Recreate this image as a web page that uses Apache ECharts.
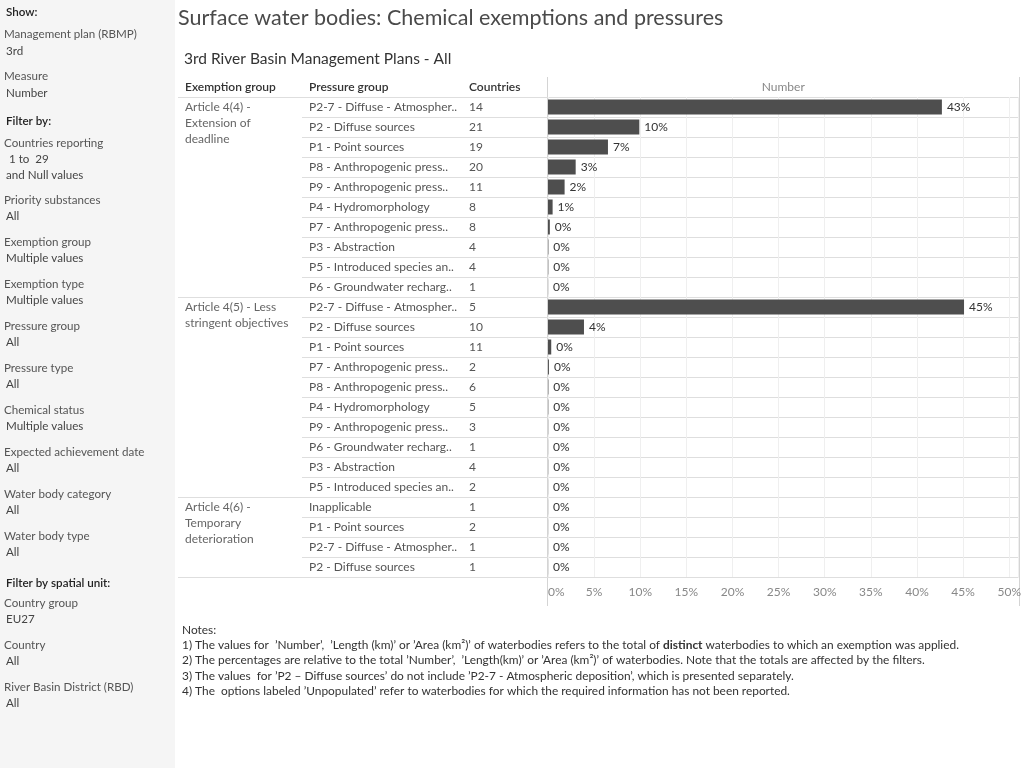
<!DOCTYPE html>
<html>
<head>
<meta charset="utf-8">
<script src="https://cdn.jsdelivr.net/npm/echarts@6/dist/echarts.min.js"></script>
<style>
html, body { margin: 0; padding: 0; background: #fff; }
#main { width: 1024px; height: 768px; }
</style>
</head>
<body>
<div id="main"></div>
<script>
var dom = document.getElementById('main');
var myChart = echarts.init(dom);

// table data, one entry per row
var groupNames = ['Article 4(4) -\nExtension of\ndeadline', 'Article 4(5) - Less\nstringent objectives', 'Article 4(6) -\nTemporary\ndeterioration'];
var groupSizes = [10, 10, 4];
var pressures = [
    'P2-7 - Diffuse - Atmospher..', 'P2 - Diffuse sources', 'P1 - Point sources', 'P8 - Anthropogenic press..',
    'P9 - Anthropogenic press..', 'P4 - Hydromorphology', 'P7 - Anthropogenic press..', 'P3 - Abstraction',
    'P5 - Introduced species an..', 'P6 - Groundwater recharg..',
    'P2-7 - Diffuse - Atmospher..', 'P2 - Diffuse sources', 'P1 - Point sources', 'P7 - Anthropogenic press..',
    'P8 - Anthropogenic press..', 'P4 - Hydromorphology', 'P9 - Anthropogenic press..', 'P6 - Groundwater recharg..',
    'P3 - Abstraction', 'P5 - Introduced species an..',
    'Inapplicable', 'P1 - Point sources', 'P2-7 - Diffuse - Atmospher..', 'P2 - Diffuse sources'
];
var countries = [14, 21, 19, 20, 11, 8, 8, 4, 4, 1, 5, 10, 11, 2, 6, 5, 3, 1, 4, 2, 1, 2, 1, 1];
var shares = [42.7, 9.9, 6.5, 3.0, 1.8, 0.5, 0.2, 0.04, 0.03, 0.01,
              45.1, 3.9, 0.35, 0.1, 0.04, 0.03, 0.02, 0.01, 0.02, 0.01,
              0.01, 0.01, 0.01, 0.01];
var xTicks = [0, 5, 10, 15, 20, 25, 30, 35, 40, 45, 50];

var rowKeys = pressures.map(function (p, i) { return 'r' + i; });
var groupStart = {};
var groupLabel = {};
var acc = 0;
groupSizes.forEach(function (n, g) {
    groupStart[acc] = true;
    groupLabel[acc] = groupNames[g];
    acc += n;
});

var FONT = 'Lato';
var lineCol = '#dedede';

// sidebar texts: [text, y, kind]
var side = [
    ['Show:', 12, 'h'], ['Management plan (RBMP)', 34, 'l'], ['3rd', 51, 'v'],
    ['Measure', 76, 'l'], ['Number', 93, 'v'],
    ['Filter by:', 121, 'h'], ['Countries reporting', 143, 'l'], [' 1 to  29', 159, 'v'], ['and Null values', 175, 'v'],
    ['Priority substances', 200, 'l'], ['All', 216, 'v'],
    ['Exemption group', 242, 'l'], ['Multiple values', 258, 'v'],
    ['Exemption type', 284, 'l'], ['Multiple values', 300, 'v'],
    ['Pressure group', 326, 'l'], ['All', 342, 'v'],
    ['Pressure type', 368, 'l'], ['All', 384, 'v'],
    ['Chemical status', 410, 'l'], ['Multiple values', 426, 'v'],
    ['Expected achievement date', 452, 'l'], ['All', 468, 'v'],
    ['Water body category', 494, 'l'], ['All', 510, 'v'],
    ['Water body type', 536, 'l'], ['All', 552, 'v'],
    ['Filter by spatial unit:', 583, 'h'], ['Country group', 603, 'l'], ['EU27', 619, 'v'],
    ['Country', 645, 'l'], ['All', 661, 'v'],
    ['River Basin District (RBD)', 687, 'l'], ['All', 703, 'v']
];

var notes = [
    'Notes:',
    '1) The values for  \u2019Number\u2019,  \u2019Length (km)\u2019 or \u2019Area (km\u00b2)\u2019 of waterbodies refers to the total of {b|distinct} waterbodies to which an exemption was applied.',
    '2) The percentages are relative to the total \u2019Number\u2019,  \u2019Length(km)\u2019 or \u2019Area (km\u00b2)\u2019 of waterbodies. Note that the totals are affected by the filters.',
    '3) The values  for \u2019P2 \u2013 Diffuse sources\u2019 do not include \u2019P2-7 - Atmospheric deposition\u2019, which is presented separately.',
    '4) The  options labeled \u2019Unpopulated\u2019 refer to waterbodies for which the required information has not been reported.'
];

var graphics = [
    { type: 'rect', shape: { x: 0, y: 0, width: 175, height: 768 }, style: { fill: '#f5f5f5' }, silent: true }
];
side.forEach(function (s) {
    var st = {
        h: { x: 6, fill: '#222', fontWeight: 600 },
        l: { x: 4, fill: '#555', fontWeight: 'normal' },
        v: { x: 6, fill: '#444', fontWeight: 'normal' }
    }[s[2]];
    graphics.push({
        type: 'text', x: st.x, y: s[1],
        style: { text: s[0], fill: st.fill, font: st.fontWeight + ' 11.6px ' + FONT, textVerticalAlign: 'middle' }
    });
});
notes.forEach(function (t, i) {
    graphics.push({
        type: 'text', x: 182, y: 630 + i * 15.3,
        style: {
            text: t, fill: '#333', font: '11.9px ' + FONT, textVerticalAlign: 'middle',
            rich: { b: { fontWeight: 'bold', fill: '#333', fontSize: 11.9, fontFamily: FONT } }
        }
    });
});
// column headers
[['Exemption group', 185], ['Pressure group', 309], ['Countries', 469]].forEach(function (h) {
    graphics.push({
        type: 'text', x: h[1], y: 87,
        style: { text: h[0], fill: '#333', font: '600 12px ' + FONT, textVerticalAlign: 'middle' }
    });
});
// cell borders of the chart column
[547.5, 1019.5].forEach(function (x) {
    graphics.push({
        type: 'line', shape: { x1: x, y1: 77, x2: x, y2: 606 },
        style: { stroke: '#d4d4d4', lineWidth: 1 }, silent: true
    });
});

var hiddenX = { type: 'value', min: 0, max: 1, show: false };

option = {
    animation: false,
    backgroundColor: '#fff',
    textStyle: { fontFamily: FONT },
    title: [
        { text: 'Surface water bodies: Chemical exemptions and pressures', left: 173, top: 2,
          textStyle: { color: '#4a4a4a', fontSize: 21.5, fontWeight: 'normal', fontFamily: FONT } },
        { text: '3rd River Basin Management Plans - All', left: 179, top: 46,
          textStyle: { color: '#333', fontSize: 15.5, fontWeight: 'normal', fontFamily: FONT } }
    ],
    graphic: graphics,
    grid: [
        { left: 178, top: 97, width: 124, height: 480 },
        { left: 302, top: 97, width: 246, height: 480 },
        { left: 548, top: 97, width: 471, height: 480 }
    ],
    xAxis: [
        Object.assign({ gridIndex: 0 }, hiddenX),
        Object.assign({ gridIndex: 1 }, hiddenX),
        {
            gridIndex: 2, type: 'value', min: 0, max: 51, interval: 5, position: 'bottom',
            axisLine: { show: false }, axisTick: { show: false },
            axisLabel: {
                color: '#888', fontSize: 12, margin: 9, showMaxLabel: false, alignMinLabel: 'left',
                formatter: function (v) { return xTicks.indexOf(v) >= 0 ? v + '%' : ''; }
            },
            splitLine: { show: true, lineStyle: { color: '#efefef' } }
        },
        {
            gridIndex: 2, type: 'value', min: 0, max: 51, position: 'top',
            name: 'Number', nameLocation: 'middle', nameGap: 4,
            nameTextStyle: { color: '#888', fontSize: 12 },
            axisLine: { show: false }, axisTick: { show: false }, axisLabel: { show: false }, splitLine: { show: false }
        }
    ],
    yAxis: [
        {
            gridIndex: 0, type: 'category', inverse: true, data: rowKeys, position: 'left', offset: -7,
            axisLine: { show: false }, axisTick: { show: false },
            axisLabel: {
                interval: 0, margin: 0, align: 'left', verticalAlign: 'middle', color: '#666', fontSize: 12, lineHeight: 16,
                formatter: function (v, i) {
                    if (!groupLabel[i]) return '';
                    var lines = groupLabel[i].split('\n');
                    var pad = [];
                    for (var k = 1; k < lines.length; k++) pad.push(' ');
                    return pad.concat(lines).join('\n');
                }
            },
            splitLine: {
                show: true, interval: function (i) { return !!groupStart[i]; },
                lineStyle: { color: lineCol }
            }
        },
        {
            gridIndex: 1, type: 'category', inverse: true, data: rowKeys, position: 'left', offset: -7,
            axisLine: { show: false }, axisTick: { show: false },
            axisLabel: {
                interval: 0, margin: 0, align: 'left', color: '#555', fontSize: 12,
                formatter: function (v, i) { return pressures[i]; }
            },
            splitLine: { show: true, interval: 0, lineStyle: { color: lineCol } }
        },
        {
            gridIndex: 1, type: 'category', inverse: true, data: rowKeys, position: 'left', offset: -167,
            axisLine: { show: false }, axisTick: { show: false },
            axisLabel: {
                interval: 0, margin: 0, align: 'left', color: '#555', fontSize: 12,
                formatter: function (v, i) { return String(countries[i]); }
            },
            splitLine: { show: false }
        },
        {
            gridIndex: 2, type: 'category', inverse: true, data: rowKeys,
            axisLine: { show: false }, axisTick: { show: false }, axisLabel: { show: false },
            splitLine: { show: true, interval: 0, lineStyle: { color: lineCol } }
        }
    ],
    series: [
        {
            name: 'Number', type: 'bar', xAxisIndex: 2, yAxisIndex: 3,
            data: shares, barWidth: 15,
            itemStyle: { color: '#4e4e4e' },
            label: {
                show: true, position: 'right', distance: 5, color: '#333', fontSize: 12,
                formatter: function (p) { return Math.round(p.value) + '%'; }
            }
        }
    ]
};

if (option && typeof option === 'object') {
    myChart.setOption(option, true);
}
</script>
</body>
</html>
